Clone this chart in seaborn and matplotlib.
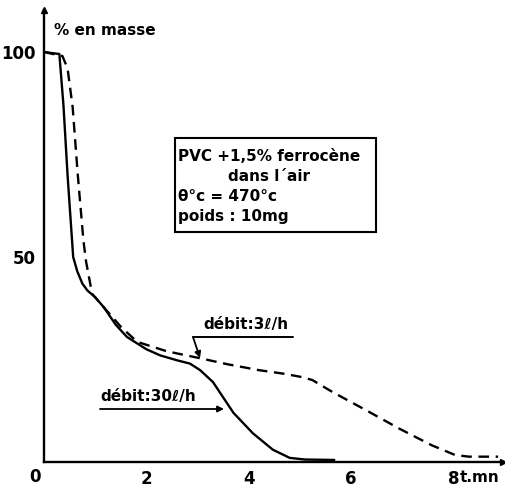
import numpy as np
import pandas as pd
import matplotlib
matplotlib.use("Agg")
import matplotlib.pyplot as plt
import seaborn as sns
from matplotlib.patches import Rectangle

# --- data ---
t_30 = [0, 0.30, 0.38, 0.46, 0.57, 0.65, 0.75, 0.85, 1.00, 1.17, 1.40, 1.62, 2.00, 2.27,
        2.60, 2.85, 3.05, 3.30, 3.70, 4.08, 4.47, 4.80, 5.10, 5.67]
m_30 = [100, 99.5, 87, 70, 50, 46.5, 43.5, 41.8, 40.2, 37.7, 33.5, 30.5, 27.5, 26,
        24.8, 24, 22.4, 19.5, 12, 7, 3, 1, 0.6, 0.5]
t_3 = [0, 0.36, 0.46, 0.56, 0.66, 0.77, 0.82, 0.94, 1.17, 1.50, 1.82, 2.40, 3.05, 3.60,
       4.20, 4.70, 5.00, 5.24, 5.63, 6.28, 6.93, 7.57, 8.03, 8.30, 8.87]
m_3 = [100, 99, 96, 86.5, 70, 54, 49, 41, 37.7, 33, 29.3, 27, 25.3, 23.8,
       22.4, 21.5, 20.8, 20, 17.1, 12.7, 8.2, 4.1, 1.7, 1.3, 1.3]
x_ticks = [2, 4, 6, 8]
x_labels = ["2", "4", "6", "8"]
x_minor = [1, 2, 3, 4, 5, 6, 7, 8]
y_ticks = [50, 100]
y_labels = ["50", "100"]

df = pd.concat([
    pd.DataFrame({"t": t_30, "m": m_30, "debit": "30"}),
    pd.DataFrame({"t": t_3, "m": m_3, "debit": "3"}),
])

sns.set_style("white")
plt.rcParams["font.family"] = ["DejaVu Sans"]
plt.rcParams["text.color"] = "black"
plt.rcParams["xtick.color"] = "black"
plt.rcParams["ytick.color"] = "black"

W, H = 506, 493
fig = plt.figure(figsize=(W / 100, H / 100), dpi=100)
x0, x1 = 44, 503
y0, y1 = 462, 10
ax = fig.add_axes([x0 / W, 1 - y0 / H, (x1 - x0) / W, (y0 - y1) / H])
xscale = 51.2
yscale = 4.1
ax.set_xlim(0, (x1 - x0) / xscale)
ax.set_ylim(0, (y0 - y1) / yscale)

sns.lineplot(data=df, x="t", y="m", hue="debit", style="debit",
             palette={"30": "black", "3": "black"},
             dashes={"30": "", "3": (4.5, 2.8)},
             linewidth=1.7, sort=False, estimator=None, legend=False, ax=ax)

ax.set_xlabel("")
ax.set_ylabel("")
for s in ["top", "right"]:
    ax.spines[s].set_visible(False)
for s in ["left", "bottom"]:
    ax.spines[s].set_linewidth(1.7)
    ax.spines[s].set_color("black")

# axis arrows
ax.plot(1, 0, marker=">", color="black", markersize=5, transform=ax.transAxes, clip_on=False)
ax.plot(0, 1, marker="^", color="black", markersize=5, transform=ax.transAxes, clip_on=False)

fs = 12
ax.set_xticks(x_minor, minor=True)
ax.set_xticks(x_ticks)
ax.set_xticklabels(x_labels, fontsize=fs, fontweight="bold", color="black")
ax.tick_params(axis="x", which="both", direction="in", length=3, width=1.2, pad=6)
ax.set_yticks(y_ticks)
ax.set_yticklabels(y_labels, fontsize=fs, fontweight="bold", color="black")
ax.tick_params(axis="y", direction="inout", length=8, width=1.2, pad=2)

ax.text(-0.18, -0.014, "0", transform=ax.get_xaxis_transform(), fontsize=fs,
        fontweight="bold", ha="center", va="top", color="black")
ax.text(8.12, -0.018, "t.mn", transform=ax.get_xaxis_transform(), fontsize=fs - 1,
        fontweight="bold", ha="left", va="top", color="black")
ax.text(0.2, 0.955, "% en masse", transform=ax.get_xaxis_transform(), fontsize=fs - 1,
        fontweight="bold", ha="left", va="center", color="black")

# info box
bx0, bx1 = (175 - x0) / xscale, (376 - x0) / xscale
by0, by1 = (y0 - 232) / yscale, (y0 - 138) / yscale
ax.add_patch(Rectangle((bx0, by0), bx1 - bx0, by1 - by0, fill=False,
                       edgecolor="black", linewidth=1.5))
lines = [("PVC +1,5% ferrocène", 178, 157), ("dans l´air", 228, 177),
         ("θ°c = 470°c", 178, 197), ("poids : 10mg", 178, 217)]
for txt, px, py in lines:
    ax.text((px - x0) / xscale, (y0 - py) / yscale, txt, fontsize=11,
            fontweight="bold", ha="left", va="center", color="black")

# annotations
ax.text((203 - x0) / xscale, (y0 - 325) / yscale, "débit:3ℓ/h", fontsize=11,
        fontweight="bold", ha="left", va="center", color="black")
ax.plot([(193 - x0) / xscale, (293 - x0) / xscale],
        [(y0 - 337) / yscale, (y0 - 337) / yscale], color="black", lw=1.4)
ax.annotate("", xy=((200 - x0) / xscale, (y0 - 358) / yscale),
            xytext=((193 - x0) / xscale, (y0 - 337) / yscale),
            arrowprops=dict(arrowstyle="-|>", color="black", lw=1.3,
                            mutation_scale=9, shrinkA=0, shrinkB=0))
ax.text((100 - x0) / xscale, (y0 - 396) / yscale, "débit:30ℓ/h", fontsize=11,
        fontweight="bold", ha="left", va="center", color="black")
ax.annotate("", xy=((224 - x0) / xscale, (y0 - 409) / yscale),
            xytext=((100 - x0) / xscale, (y0 - 409) / yscale),
            arrowprops=dict(arrowstyle="-|>", color="black", lw=1.3,
                            mutation_scale=9, shrinkA=0, shrinkB=0))

fig.savefig("out.png", dpi=100)
